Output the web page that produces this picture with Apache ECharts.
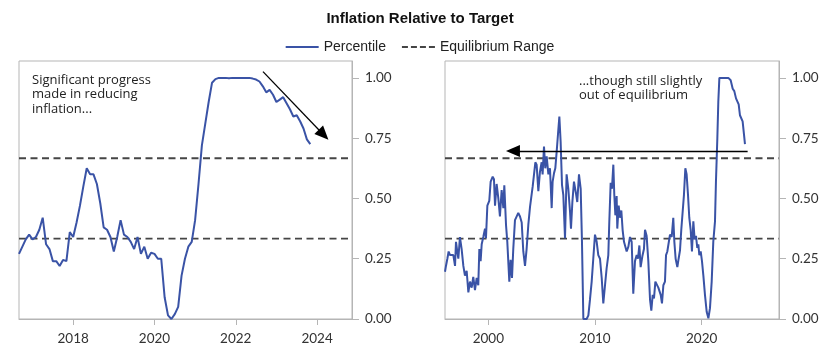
<!DOCTYPE html>
<html>
<head>
<meta charset="utf-8">
<script src="https://cdn.jsdelivr.net/npm/echarts@6/dist/echarts.min.js"></script>
<style>html,body{margin:0;padding:0;background:#fff}#c{width:840px;height:357px}</style>
</head>
<body>
<div id="c"></div>
<script>
// ---- Data ----
var title = 'Inflation Relative to Target';
var seriesName = 'Percentile';
var rangeName = 'Equilibrium Range';
var eqLow = 1 / 3;
var eqHigh = 2 / 3;
var yTicks = [0, 0.25, 0.5, 0.75, 1.0];

// Left panel: monthly from Sep 2016
var leftStartYear = 2016 + 8 / 12;
var leftValues = [0.27,0.30,0.33,0.35,0.33,0.34,0.37,0.42,0.31,0.29,0.24,0.24,0.22,0.245,0.24,0.36,0.34,0.40,0.47,0.55,
  0.625,0.60,0.60,0.56,0.48,0.38,0.37,0.34,0.28,0.34,0.41,0.35,0.34,0.32,0.29,0.34,0.27,0.30,0.25,0.275,
  0.27,0.25,0.25,0.09,0.015,0.0,0.02,0.05,0.18,0.25,0.30,0.32,0.41,0.56,0.72,0.81,0.90,0.98,0.995,1.0,
  1.0,1.0,0.998,1.0,1.0,1.0,1.0,1.0,1.0,0.997,0.993,0.985,0.965,0.94,0.95,0.93,0.90,0.91,0.92,0.895,
  0.87,0.84,0.845,0.82,0.79,0.745,0.725];
var leftTicks = [2018, 2020, 2022, 2024];
var leftXRange = [2016.667, 2024.86];

// Right panel: long history
var rightYears = [1995.94,1996.03,1996.16,1996.28,1996.41,1996.56,1996.72,1996.88,1996.97,1997.09,1997.19,1997.34,1997.50,1997.66,1997.81,1997.97,
  1998.13,1998.28,1998.44,1998.59,1998.75,1998.91,1999.06,1999.16,1999.28,1999.38,1999.53,1999.69,1999.78,1999.91,
  2000.09,2000.22,2000.41,2000.53,2000.63,2000.78,2000.94,2001.09,2001.25,2001.41,2001.50,2001.66,2001.78,2001.97,
  2002.09,2002.22,2002.34,2002.50,2002.66,2002.81,2002.97,2003.13,2003.28,2003.44,2003.59,2003.75,2003.91,
  2004.06,2004.16,2004.28,2004.41,2004.53,2004.69,2004.84,2005.00,2005.09,2005.22,2005.34,2005.47,2005.63,2005.78,2005.94,
  2006.03,2006.16,2006.28,2006.41,2006.53,2006.66,2006.78,2006.91,2007.03,2007.19,2007.34,2007.50,2007.66,2007.75,2007.88,
  2008.03,2008.22,2008.34,2008.50,2008.66,2008.78,2008.91,2009.06,2009.22,2009.38,2009.53,2009.69,2009.84,
  2010.00,2010.16,2010.31,2010.47,2010.63,2010.78,2010.94,2011.09,2011.25,2011.34,2011.47,2011.59,2011.72,2011.81,2011.91,
  2012.03,2012.09,2012.22,2012.34,2012.47,2012.59,2012.72,2012.84,2012.97,2013.13,2013.28,2013.44,2013.59,2013.75,2013.91,
  2014.03,2014.16,2014.28,2014.44,2014.59,2014.69,2014.84,2015.00,2015.16,2015.28,2015.41,2015.53,2015.66,2015.78,2015.94,
  2016.03,2016.16,2016.28,2016.41,2016.56,2016.66,2016.78,2016.94,2017.03,2017.19,2017.34,2017.44,2017.56,2017.72,2017.84,2017.97,
  2018.09,2018.22,2018.34,2018.47,2018.59,2018.72,2018.84,2018.97,2019.09,2019.22,2019.34,2019.47,2019.59,2019.69,2019.78,2019.91,
  2020.03,2020.16,2020.31,2020.47,2020.63,2020.78,2020.94,2021.09,2021.25,2021.34,2021.47,2021.56,2021.66,2021.78,2021.97,
  2022.19,2022.50,2022.72,2022.91,2023.06,2023.22,2023.34,2023.47,2023.59,2023.72,2023.84,2023.97,2024.06];
var rightValues = [0.196,0.22,0.25,0.28,0.265,0.27,0.265,0.22,0.32,0.28,0.25,0.34,0.29,0.22,0.18,0.20,
  0.11,0.155,0.13,0.175,0.12,0.17,0.14,0.29,0.24,0.31,0.34,0.375,0.335,0.47,
  0.49,0.57,0.59,0.58,0.47,0.56,0.50,0.425,0.535,0.46,0.555,0.39,0.32,0.155,
  0.245,0.17,0.29,0.41,0.405,0.44,0.425,0.40,0.28,0.22,0.29,0.39,0.465,
  0.47,0.55,0.55,0.65,0.64,0.53,0.61,0.65,0.60,0.715,0.625,0.675,0.60,0.625,0.46,
  0.57,0.605,0.625,0.695,0.765,0.84,0.735,0.555,0.515,0.335,0.60,0.54,0.445,0.375,0.485,
  0.57,0.52,0.485,0.60,0.54,0.32,0.0,0.0,0.0,0.015,0.08,0.155,0.25,
  0.35,0.32,0.265,0.25,0.17,0.065,0.14,0.21,0.265,0.40,0.565,0.54,0.64,0.515,0.43,
  0.51,0.375,0.47,0.42,0.45,0.37,0.32,0.315,0.28,0.30,0.34,0.32,0.105,0.24,0.265,
  0.25,0.305,0.215,0.26,0.29,0.37,0.345,0.24,0.08,0.035,0.10,0.085,0.155,0.155,0.13,
  0.135,0.10,0.065,0.14,0.155,0.265,0.28,0.28,0.35,0.34,0.42,0.32,0.25,0.215,0.25,0.285,
  0.37,0.365,0.515,0.625,0.60,0.515,0.42,0.37,0.28,0.405,0.33,0.345,0.295,0.31,0.265,0.28,
  0.24,0.18,0.10,0.03,0.003,0.045,0.155,0.32,0.405,0.57,0.75,0.90,1.0,1.0,1.0,
  1.0,1.0,0.99,0.955,0.945,0.915,0.92,0.89,0.845,0.845,0.82,0.765,0.725];
var rightTicks = [2000, 2010, 2020];
var rightXRange = [1995.94, 2027.25];

// Annotation arrows (data coordinates; end = centre of arrow head)
var leftArrow = [[2022.67, 1.026], [2024.16, 0.764]];
var rightArrow = [[2024.31, 0.697], [2002.31, 0.697]];
var leftNote = 'Significant progress\nmade in reducing\ninflation...';
var rightNote = '...though still slightly\nout of equilibrium';

// ---- Build ----
var leftData = leftValues.map(function (v, i) { return [leftStartYear + i / 12, v]; });
var rightData = rightValues.map(function (v, i) { return [rightYears[i], v]; });

var BLUE = '#3a53a6';
var DASH = '#454545';
var AXIS = '#b5b5b5';
var TXT = '#333333';
var FONT = 'Lato';
var NOTE_FONT = '13px "Open Sans"';
var yMax = 1.07;

function xAxis(idx, range, ticks) {
  return {
    type: 'value', gridIndex: idx, min: range[0], max: range[1],
    axisLine: { show: true, onZero: false, lineStyle: { color: AXIS, width: 1 } },
    axisTick: { show: true, length: 6, lineStyle: { color: AXIS }, customValues: ticks },
    axisLabel: { customValues: ticks, color: TXT, fontFamily: FONT, fontSize: 13.5, margin: 13,
      formatter: function (v) { return String(Math.round(v)); } },
    splitLine: { show: false }
  };
}
function yAxis(idx) {
  return {
    type: 'value', gridIndex: idx, position: 'right', min: 0, max: yMax,
    axisLine: { show: true, lineStyle: { color: AXIS, width: 1 } },
    axisTick: { show: true, length: 7, lineStyle: { color: AXIS }, customValues: yTicks },
    axisLabel: { customValues: yTicks, color: TXT, fontFamily: FONT, fontSize: 13.5, margin: 13,
      formatter: function (v) { return v.toFixed(2); } },
    splitLine: { show: false }
  };
}
function eqSeries(idx, range, val) {
  return {
    name: rangeName, type: 'line', xAxisIndex: idx, yAxisIndex: idx,
    data: [[range[0], val], [range[1], val]], symbol: 'none', silent: true,
    lineStyle: { color: DASH, width: 1.9, type: [7, 4.5] }, itemStyle: { color: DASH }, z: 1
  };
}
function arrowLine(coords) {
  return {
    silent: true, symbol: ['none', 'triangle'], symbolSize: [12, 14],
    lineStyle: { color: '#000', width: 1.3, type: 'solid' }, label: { show: false },
    emphasis: { disabled: true },
    data: [[{ coord: coords[0] }, { coord: coords[1] }]]
  };
}

var chart = echarts.init(document.getElementById('c'), null, { renderer: 'canvas' });
chart.setOption({
  animation: false,
  backgroundColor: '#fff',
  title: { text: title, left: 'center', top: 6,
    textStyle: { fontFamily: 'Liberation Sans Narrow, Liberation Sans, sans-serif', fontWeight: 'bold', fontSize: 15, color: '#111' } },
  legend: {
    top: 35, left: 'center', itemWidth: 33, itemHeight: 2, itemGap: 16,
    data: [
      { name: seriesName, icon: 'rect' },
      { name: rangeName, icon: 'path://M0,0h6v2h-6z M9,0h6v2h-6z M18,0h6v2h-6z M27,0h6v2h-6z' }
    ],
    textStyle: { fontFamily: 'Liberation Sans Narrow, Liberation Sans, sans-serif', fontSize: 14, color: '#222' }
  },
  grid: [
    { left: 19, right: 488, top: 61, bottom: 38, show: true, borderColor: AXIS, borderWidth: 1 },
    { left: 445, right: 61, top: 61, bottom: 38, show: true, borderColor: AXIS, borderWidth: 1 }
  ],
  xAxis: [xAxis(0, leftXRange, leftTicks), xAxis(1, rightXRange, rightTicks)],
  yAxis: [yAxis(0), yAxis(1)],
  graphic: [
    { type: 'text', left: 32, top: 73, style: { text: leftNote, font: NOTE_FONT, lineHeight: 14.5, fill: '#222' } },
    { type: 'text', left: 579, top: 74, style: { text: rightNote, font: NOTE_FONT, lineHeight: 14.5, fill: '#222' } }
  ],
  series: [
    eqSeries(0, leftXRange, eqLow), eqSeries(0, leftXRange, eqHigh),
    eqSeries(1, rightXRange, eqLow), eqSeries(1, rightXRange, eqHigh),
    { name: seriesName, type: 'line', xAxisIndex: 0, yAxisIndex: 0, data: leftData, symbol: 'none',
      lineStyle: { color: BLUE, width: 2 }, itemStyle: { color: BLUE }, z: 3,
      markLine: arrowLine(leftArrow) },
    { name: seriesName, type: 'line', xAxisIndex: 1, yAxisIndex: 1, data: rightData, symbol: 'none',
      lineStyle: { color: BLUE, width: 2 }, itemStyle: { color: BLUE }, z: 3,
      markLine: arrowLine(rightArrow) }
  ]
});
</script>
</body>
</html>
